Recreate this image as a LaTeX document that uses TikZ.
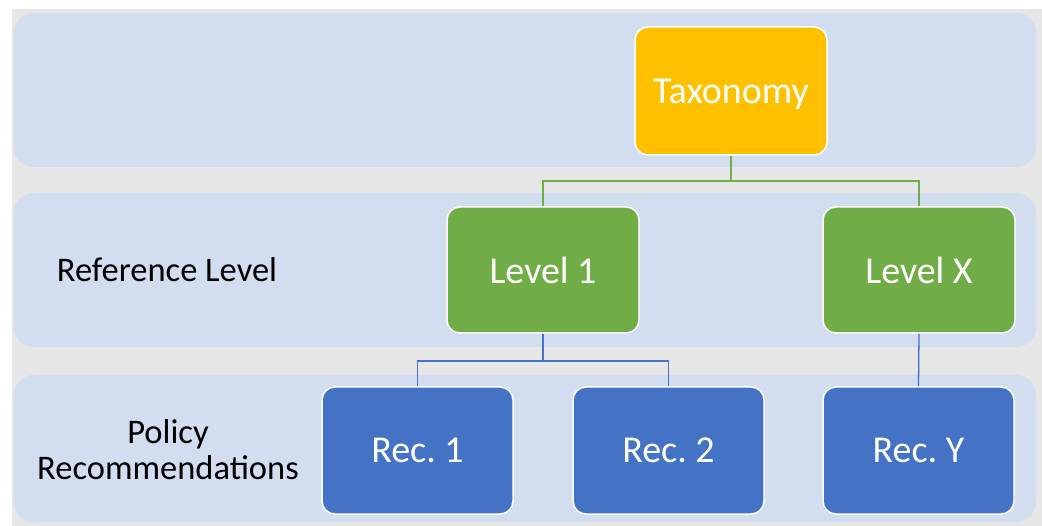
\documentclass[tikz,border=0pt]{standalone}
\usepackage{fontspec}
\setmainfont{Carlito}
\frenchspacing
\definecolor{bandblue}{HTML}{D2DDEF}
\definecolor{sheetgray}{HTML}{E6E6E6}
\definecolor{taxorange}{HTML}{FFC000}
\definecolor{lvlgreen}{HTML}{70AD47}
\definecolor{recblue}{HTML}{4472C4}
\tikzset{
  band/.style={fill=bandblue, draw=none, rounded corners=20pt},
  box/.style={draw=white, line width=1.5pt, rounded corners=13pt,
    text=white, font=\fontsize{38}{44}\selectfont, inner sep=0pt, text depth=0pt},
  taxbox/.style={box, fill=taxorange, minimum width=192pt, minimum height=128pt},
  lvlbox/.style={box, fill=lvlgreen, minimum width=192pt, minimum height=126pt},
  recbox/.style={box, fill=recblue, minimum width=191pt, minimum height=127pt},
  rowlabel/.style={text=black, align=center, font=\fontsize{34.5}{36}\selectfont},
  glink/.style={draw=lvlgreen, line width=1.3pt},
  blink/.style={draw=recblue, line width=1.3pt},
}
\begin{document}
\begin{tikzpicture}[x=1pt, y=-1pt]
  % page and backdrop
  \useasboundingbox (0,0) rectangle (1042,526);
  \fill[white] (0,0) rectangle (1042,526);
  \fill[sheetgray] (12,9) rectangle (1042,526);
  % row bands
  \fill[band] (14,13) rectangle (1036,167);
  \fill[band] (14,193) rectangle (1036,347);
  \fill[band] (14,375) rectangle (1036,522);

  % row labels
  \node[rowlabel] (reflabel) at (167,270) {Reference Level};
  \node[rowlabel] (pollabel) at (168,450) {Policy\\Recommendations};

  % boxes
  \node[taxbox] (tax) at (731,91) {Taxonomy};
  \node[lvlbox] (l1) at (543,270) {Level 1};
  \node[lvlbox] (lx) at (919,270) {Level X};
  \node[recbox] (r1) at (417.5,450.5) {Rec. 1};
  \node[recbox] (r2) at (668.5,450.5) {Rec. 2};
  \node[recbox] (ry) at (918.5,450.5) {Rec. Y};

  % connectors
  \coordinate (jtax) at (731,181);
  \coordinate (jl1) at (543,361);
  \draw[glink] (tax.south) -- (jtax) -| (l1.north);
  \draw[glink] (jtax) -| (lx.north);
  \draw[blink] (l1.south) -- (jl1) -| (r1.north);
  \draw[blink] (jl1) -| (r2.north);
  \draw[blink] (lx.south) -- (ry.north);
\end{tikzpicture}
\end{document}
